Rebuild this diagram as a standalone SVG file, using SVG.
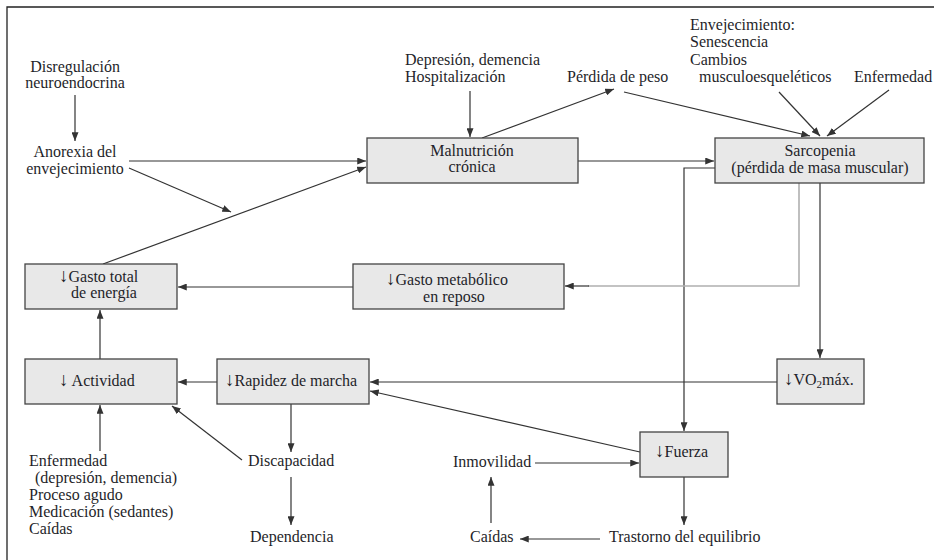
<svg xmlns="http://www.w3.org/2000/svg" width="934" height="560" viewBox="0 0 934 560">
<defs>
<style>
text{font-family:"Liberation Serif","Times New Roman",serif;font-size:16px;fill:#1f1f2a}
.m{text-anchor:middle}
.box{fill:#e8e8e8;stroke:#444;stroke-width:1.3}
.c{fill:none;stroke:#333;stroke-width:1.2}
.g{fill:none;stroke:#b0b0b0;stroke-width:1.6}
.sub{font-size:11px}
.ar{font-size:19px}
</style>
<marker id="a" viewBox="0 0 10 8" refX="10" refY="4" markerWidth="9" markerHeight="7" orient="auto" markerUnits="userSpaceOnUse">
<path d="M0,0 L10,4 L0,8 z" fill="#333"/>
</marker>
</defs>
<rect width="934" height="560" fill="#fff"/>
<path d="M7,560 V7 H934" fill="none" stroke="#222" stroke-width="1.3"/>

<g id="connectors">
<path class="c" d="M75,95 V141" marker-end="url(#a)"/>
<path class="c" d="M129,161 H366" marker-end="url(#a)"/>
<path class="c" d="M129,168 L231,212" marker-end="url(#a)"/>
<path class="c" d="M103,264 L366,167" marker-end="url(#a)"/>
<path class="c" d="M470,91 V137" marker-end="url(#a)"/>
<path class="c" d="M482,138 L614,89" marker-end="url(#a)"/>
<path class="c" d="M624,92 L810,136" marker-end="url(#a)"/>
<path class="c" d="M779,92 L820,136" marker-end="url(#a)"/>
<path class="c" d="M889,90 L827,136" marker-end="url(#a)"/>
<path class="c" d="M578,161 H714" marker-end="url(#a)"/>
<path class="c" d="M715,168 H684 V431" marker-end="url(#a)"/>
<path class="g" d="M799,183 V286 H588"/>
<path class="c" d="M589,286 H565" marker-end="url(#a)"/>
<path class="c" d="M820,183 V358" marker-end="url(#a)"/>
<path class="c" d="M777,382 H370" marker-end="url(#a)"/>
<path class="c" d="M640,452 L370,391" marker-end="url(#a)"/>
<path class="c" d="M535,463 H639" marker-end="url(#a)"/>
<path class="c" d="M491,523 V477" marker-end="url(#a)"/>
<path class="c" d="M600,539 H520" marker-end="url(#a)"/>
<path class="c" d="M684,477 V525" marker-end="url(#a)"/>
<path class="c" d="M291,404 V452" marker-end="url(#a)"/>
<path class="c" d="M291,477 V525" marker-end="url(#a)"/>
<path class="c" d="M242,460 L172,406" stroke="#555" marker-end="url(#a)"/>
<path class="c" d="M100,451 V405" marker-end="url(#a)"/>
<path class="c" d="M100,359 V310" marker-end="url(#a)"/>
<path class="c" d="M353,287 H178" marker-end="url(#a)"/>
<path class="c" d="M217,382 H178" marker-end="url(#a)"/>
</g>

<g id="n-disregulacion"><text class="m" x="75" y="72">Disregulación</text><text class="m" x="75" y="88">neuroendocrina</text></g>
<g id="n-anorexia"><text class="m" x="75" y="157">Anorexia del</text><text class="m" x="75" y="174">envejecimiento</text></g>
<g id="n-depresion"><text x="405" y="65">Depresión, demencia</text><text x="405" y="82">Hospitalización</text></g>
<g id="n-perdida"><text x="567" y="82">Pérdida de peso</text></g>
<g id="n-envejecimiento"><text x="690" y="30">Envejecimiento:</text><text x="690" y="47">Senescencia</text><text x="690" y="65">Cambios</text><text x="699" y="82">musculoesqueléticos</text></g>
<g id="n-enfermedad1"><text x="854" y="82">Enfermedad</text></g>
<g id="n-malnutricion"><rect class="box" x="367" y="138" width="211" height="45"/><text class="m" x="472" y="156">Malnutrición</text><text class="m" x="472" y="172">crónica</text></g>
<g id="n-sarcopenia"><rect class="box" x="715" y="138" width="209" height="45"/><text class="m" x="820" y="156">Sarcopenia</text><text class="m" x="820" y="173">(pérdida de masa muscular)</text></g>
<g id="n-gastototal"><rect class="box" x="25" y="264" width="152" height="45"/><text x="59" y="282"><tspan class="ar">↓</tspan>Gasto total</text><text class="m" x="104" y="298">de energía</text></g>
<g id="n-gastometabolico"><rect class="box" x="353" y="264" width="211" height="45"/><text x="386" y="285"><tspan class="ar">↓</tspan>Gasto metabólico</text><text class="m" x="454" y="302">en reposo</text></g>
<g id="n-actividad"><rect class="box" x="25" y="359" width="152" height="45"/><text x="59" y="386"><tspan class="ar">↓</tspan> Actividad</text></g>
<g id="n-rapidez"><rect class="box" x="217" y="359" width="152" height="45"/><text x="225" y="386"><tspan class="ar">↓</tspan>Rapidez de marcha</text></g>
<g id="n-vo2"><rect class="box" x="777" y="359" width="87" height="45"/><text x="784" y="385"><tspan class="ar">↓</tspan>VO<tspan class="sub" dy="3">2</tspan><tspan dy="-3">máx.</tspan></text></g>
<g id="n-fuerza"><rect class="box" x="640" y="432" width="88" height="45"/><text x="655" y="457"><tspan class="ar">↓</tspan>Fuerza</text></g>
<g id="n-inmovilidad"><text x="453" y="467">Inmovilidad</text></g>
<g id="n-caidas"><text x="470" y="542">Caídas</text></g>
<g id="n-trastorno"><text x="609" y="542">Trastorno del equilibrio</text></g>
<g id="n-discapacidad"><text x="248" y="466">Discapacidad</text></g>
<g id="n-dependencia"><text x="250" y="542">Dependencia</text></g>
<g id="n-enfermedad2"><text x="29" y="466">Enfermedad</text><text x="35" y="483">(depresión, demencia)</text><text x="29" y="500">Proceso agudo</text><text x="29" y="517">Medicación (sedantes)</text><text x="29" y="534">Caídas</text></g>
</svg>
